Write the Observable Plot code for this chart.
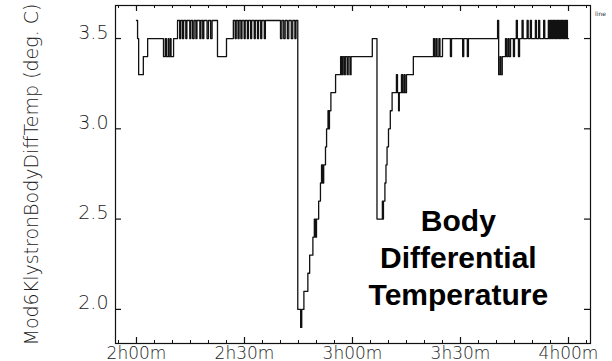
<!DOCTYPE html>
<html>
<head>
<meta charset="utf-8">
<script src="https://cdn.jsdelivr.net/npm/d3@7"></script>
<script src="https://cdn.jsdelivr.net/npm/@observablehq/plot@0.6"></script>
<style>
  html, body { margin: 0; padding: 0; background: #fff; }
  #chart svg { display: block; }
</style>
</head>
<body>
<div id="chart"></div>
<script>
// ---- data (time in minutes since 0h00m, temperature in deg C) ----
const timeMin = [
  120.0,120.3,120.6,121.9,123.1,127.5,128.0,128.3,128.8,129.0,129.4,129.6,130.3,
  131.4,132.0,132.3,132.8,133.1,133.7,134.0,134.8,135.1,135.6,136.0,136.5,136.8,137.6,137.9,138.4,138.7,139.6,140.0,140.6,141.0,
  142.5,145.0,146.9,147.4,147.7,148.2,148.5,149.0,149.3,149.9,150.2,150.8,151.1,151.7,152.0,152.7,153.0,153.6,153.9,154.5,154.8,155.5,155.8,
  160.0,160.4,160.9,161.3,161.9,162.3,163.0,163.4,164.0,164.3,
  164.8,165.6,165.9,166.5,167.6,168.1,169.0,169.4,169.7,170.0,170.6,171.1,171.4,171.7,172.0,172.5,172.8,173.2,173.4,173.6,174.0,175.3,
  176.7,177.0,177.3,177.7,178.0,178.5,178.8,179.3,179.6,185.5,
  186.8,188.3,188.4,188.6,189.0,189.3,189.6,190.0,190.5,191.0,192.2,192.5,192.8,193.0,193.6,193.9,194.3,194.6,195.0,196.9,
  202.5,202.8,203.2,203.5,204.0,204.3,205.0,207.2,207.5,210.6,210.9,211.9,212.2,
  220.3,220.6,221.0,221.2,221.6,222.5,222.8,223.2,223.5,223.9,224.7,225.0,
  225.5,225.8,226.1,226.4,227.1,227.4,228.5,228.8,229.4,229.7,230.8,231.1,231.7,232.0,233.1,233.4,234.4,234.7,
  235.0,235.3,235.6,235.9,236.1,236.4,236.7,237.0,237.2,237.5,237.8,238.1,238.3,238.6,238.9,239.2,239.4,239.7,240.0
];
const tempC = [
  3.6,3.5,3.3,3.4,3.5,3.4,3.5,3.4,3.5,3.4,3.5,3.4,3.5,
  3.6,3.5,3.6,3.5,3.6,3.5,3.6,3.5,3.6,3.5,3.6,3.5,3.6,3.5,3.6,3.5,3.6,3.5,3.6,3.5,3.6,
  3.4,3.5,3.6,3.5,3.6,3.5,3.6,3.5,3.6,3.5,3.6,3.5,3.6,3.5,3.6,3.5,3.6,3.5,3.6,3.5,3.6,3.5,3.6,
  3.5,3.6,3.5,3.6,3.5,3.6,3.5,3.6,3.5,3.6,
  2.0,1.9,2.0,2.1,2.2,2.3,2.4,2.5,2.4,2.5,2.6,2.7,2.8,2.7,2.8,2.9,3.0,3.1,3.0,3.1,3.2,3.3,
  3.4,3.3,3.4,3.3,3.4,3.3,3.4,3.3,3.4,3.5,
  2.5,2.6,2.5,2.6,2.7,2.8,2.9,3.0,3.1,3.2,3.3,3.2,3.1,3.2,3.3,3.2,3.3,3.2,3.3,3.4,
  3.5,3.4,3.5,3.4,3.5,3.4,3.5,3.4,3.5,3.4,3.5,3.4,3.5,
  3.6,3.3,3.4,3.3,3.4,3.5,3.4,3.5,3.4,3.5,3.4,3.5,
  3.6,3.5,3.4,3.5,3.6,3.5,3.6,3.5,3.6,3.5,3.6,3.5,3.6,3.5,3.6,3.5,3.6,3.5,
  3.6,3.5,3.6,3.5,3.6,3.5,3.6,3.5,3.6,3.5,3.6,3.5,3.6,3.5,3.6,3.5,3.6,3.5,3.5
];

const xTickValues = [120, 150, 180, 210, 240];
const xTickLabels = ["2h00m", "2h30m", "3h00m", "3h30m", "4h00m"];
const xMinorTicks = d3.range(115, 246, 5);
const yTickValues = [2.0, 2.5, 3.0, 3.5];
const yTickLabels = ["2.0", "2.5", "3.0", "3.5"];
const yTitle = "Mod6KlystronBodyDiffTemp (deg. C)";
const annotation = [{t: 209.4, v: 2.027, label: "Body\nDifferential\nTemperature"}];
const legendLabel = "line";

// ---- layout ----
const W = 612, H = 361;
const mT = 5, mB = 18, mL = 115, mR = 22;
const plotH = H - mT - mB;
const plotW = W - mL - mR;

const n = Math.min(timeMin.length, tempC.length);
const data = d3.range(n).map(i => ({t: timeMin[i], v: tempC[i]}));

const thinFont = "DejaVu Sans, sans-serif";

const chart = Plot.plot({
  width: W, height: H,
  marginTop: mT, marginBottom: mB, marginLeft: mL, marginRight: mR,
  x: {domain: [114.17, 246.11], axis: null},
  y: {domain: [1.811, 3.683], axis: null},
  style: {background: "#fff", overflow: "visible", color: "#111"},
  marks: [
    Plot.line(data, {x: "t", y: "v", curve: "step-after", stroke: "#111", strokeWidth: 1.3}),
    Plot.frame({stroke: "#111", strokeWidth: 1.2}),
    // minor ticks (inside, top and bottom)
    Plot.ruleX(xMinorTicks, {x: d => d, insetTop: plotH - 3, stroke: "#111", strokeWidth: 1}),
    Plot.ruleX(xMinorTicks, {x: d => d, insetBottom: plotH - 3, stroke: "#111", strokeWidth: 1}),
    // major ticks
    Plot.ruleX(xTickValues, {x: d => d, insetTop: plotH - 6, stroke: "#111", strokeWidth: 1.2}),
    Plot.ruleX(xTickValues, {x: d => d, insetBottom: plotH - 6, stroke: "#111", strokeWidth: 1.2}),
    Plot.ruleY(yTickValues, {y: d => d, insetRight: plotW - 6, stroke: "#111", strokeWidth: 1.2}),
    Plot.ruleY(yTickValues, {y: d => d, insetLeft: plotW - 6, stroke: "#111", strokeWidth: 1.2}),
    // y tick labels
    Plot.text(yTickValues, {
      y: d => d, frameAnchor: "left", dx: -7, text: (d, i) => yTickLabels[i],
      textAnchor: "end", lineAnchor: "bottom", fontSize: 19, fontFamily: thinFont,
      fontWeight: 200, fill: "#222", ariaLabel: "ytick-label"
    }),
    // x tick labels
    Plot.text(xTickValues, {
      x: d => d, frameAnchor: "bottom", dy: 15, text: (d, i) => xTickLabels[i],
      textAnchor: "middle", lineAnchor: "bottom", fontSize: 17, fontFamily: thinFont,
      fontWeight: 200, fill: "#222", ariaLabel: "xtick-label"
    }),
    // y title
    Plot.text([yTitle], {
      frameAnchor: "left", dx: -78, rotate: -90, text: d => d,
      textAnchor: "middle", lineAnchor: "bottom", fontSize: 19, fontFamily: thinFont,
      fontWeight: 200, fill: "#222", ariaLabel: "y-title"
    }),
    // annotation
    Plot.text(annotation, {
      x: "t", y: "v", text: "label", textAnchor: "middle", lineAnchor: "bottom",
      lineHeight: 1.233, fontSize: 30, fontWeight: "bold",
      fontFamily: "Liberation Sans, Arial, sans-serif", fill: "#000"
    }),
    // tiny legend label
    Plot.text([legendLabel], {
      frameAnchor: "top-right", dx: 10, dy: 6, text: d => d, fontSize: 6,
      textAnchor: "middle", fontFamily: thinFont, fill: "#333"
    })
  ]
});

document.getElementById("chart").appendChild(chart);

const sel = d3.select(chart);
sel.selectAll('g[aria-label="ytick-label"] text')
  .attr("textLength", 47).attr("lengthAdjust", "spacingAndGlyphs");
sel.selectAll('g[aria-label="xtick-label"] text')
  .attr("textLength", 64).attr("lengthAdjust", "spacingAndGlyphs");
sel.selectAll('g[aria-label="y-title"] text')
  .attr("textLength", 330).attr("lengthAdjust", "spacingAndGlyphs");
</script>
</body>
</html>
